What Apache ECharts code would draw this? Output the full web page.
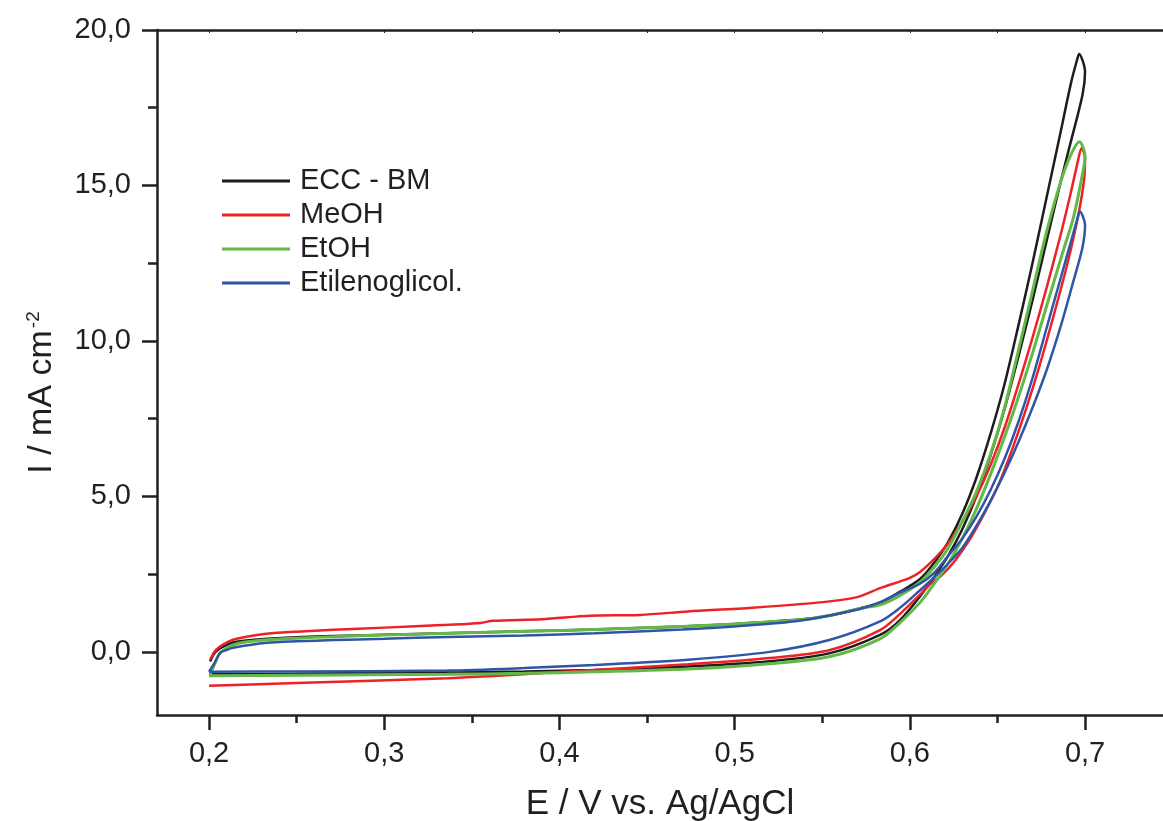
<!DOCTYPE html>
<html>
<head>
<meta charset="utf-8">
<script src="https://cdn.jsdelivr.net/npm/echarts@6/dist/echarts.min.js"></script>
<style>
  html, body { margin: 0; padding: 0; background: #fff; }
  #chart { width: 1163px; height: 821px; }
</style>
</head>
<body>
<div id="chart"></div>
<script>
// tick values
const xTicks = [0.2, 0.3, 0.4, 0.5, 0.6, 0.7];
const xMinor = [0.25, 0.35, 0.45, 0.55, 0.65];
const yTicks = [0, 5, 10, 15, 20];
const yMinor = [2.5, 7.5, 12.5, 17.5];

const names = ['ECC - BM', 'MeOH', 'EtOH', 'Etilenoglicol.'];
const colors = ['#1f1c1d', '#ec2227', '#63b947', '#2f55a4'];

// ECC - BM : scan order (forward then back)
const eccE = [0.2006, 0.203, 0.2063, 0.21, 0.2137, 0.22, 0.233, 0.25, 0.271, 0.30, 0.336, 0.38, 0.42, 0.47, 0.50, 0.537, 0.555, 0.5716, 0.583, 0.594, 0.606, 0.615, 0.622, 0.630, 0.638, 0.646, 0.654, 0.662, 0.670, 0.678, 0.686, 0.692, 0.6955, 0.6966,
              0.700, 0.6985, 0.6914, 0.686, 0.678, 0.670, 0.662, 0.654, 0.646, 0.638, 0.630, 0.622, 0.615, 0.606, 0.594, 0.583, 0.5545, 0.52, 0.4734, 0.42, 0.38, 0.336, 0.25, 0.2];
const eccI = [-0.31, -0.05, 0.12, 0.22, 0.30, 0.36, 0.42, 0.47, 0.51, 0.55, 0.60, 0.66, 0.72, 0.82, 0.90, 1.04, 1.18, 1.40, 1.58, 1.92, 2.35, 2.95, 3.55, 4.45, 5.60, 7.0, 8.6, 10.5, 12.5, 14.6, 16.7, 18.3, 19.05, 19.23,
              18.65, 17.9, 16.3, 15.1, 13.2, 11.3, 9.5, 7.8, 6.3, 5.0, 3.95, 3.1, 2.5, 1.8, 1.0, 0.55, -0.04, -0.30, -0.47, -0.58, -0.63, -0.66, -0.70, -0.72];

// MeOH
const meohE = [0.2006, 0.203, 0.2063, 0.21, 0.2137, 0.22, 0.233, 0.25, 0.271, 0.30, 0.336, 0.355, 0.362, 0.39, 0.4175, 0.446, 0.4734, 0.51, 0.5505, 0.57, 0.583, 0.600, 0.606, 0.615, 0.622, 0.630, 0.638, 0.646, 0.654, 0.662, 0.670, 0.678, 0.686, 0.692, 0.696, 0.698,
               0.700, 0.6995, 0.696, 0.690, 0.682, 0.674, 0.666, 0.658, 0.650, 0.642, 0.634, 0.626, 0.618, 0.612, 0.606, 0.594, 0.583, 0.5545, 0.52, 0.4734, 0.40, 0.336, 0.25, 0.2];
const meohI = [-0.26, 0.0, 0.17, 0.30, 0.39, 0.47, 0.58, 0.65, 0.71, 0.78, 0.87, 0.93, 1.00, 1.05, 1.16, 1.19, 1.30, 1.42, 1.60, 1.76, 2.05, 2.38, 2.58, 3.05, 3.5, 4.2, 5.0, 6.0, 7.2, 8.6, 10.1, 11.7, 13.4, 14.8, 15.8, 16.2,
               15.9, 15.2, 14.0, 12.5, 10.8, 9.2, 7.75, 6.45, 5.3, 4.4, 3.6, 2.95, 2.45, 2.2, 1.85, 1.2, 0.70, 0.06, -0.20, -0.40, -0.65, -0.85, -1.00, -1.09];

// EtOH
const etohE = [0.2005, 0.2035, 0.2063, 0.21, 0.2137, 0.22, 0.233, 0.25, 0.271, 0.30, 0.336, 0.38, 0.42, 0.47, 0.50, 0.537, 0.555, 0.5716, 0.583, 0.594, 0.606, 0.615, 0.622, 0.630, 0.638, 0.646, 0.654, 0.662, 0.670, 0.678, 0.686, 0.692, 0.6968,
               0.700, 0.699, 0.6935, 0.687, 0.679, 0.670, 0.662, 0.654, 0.646, 0.638, 0.630, 0.622, 0.614, 0.606, 0.594, 0.583, 0.5545, 0.52, 0.4734, 0.42, 0.38, 0.336, 0.25, 0.2];
const etohI = [-0.74, -0.35, -0.03, 0.12, 0.22, 0.31, 0.39, 0.44, 0.49, 0.54, 0.60, 0.66, 0.72, 0.82, 0.90, 1.03, 1.18, 1.40, 1.51, 1.80, 2.25, 2.80, 3.35, 4.2, 5.15, 6.35, 7.85, 9.7, 11.6, 13.5, 15.1, 16.0, 16.41,
               15.93, 15.5, 14.0, 12.8, 11.3, 9.6, 8.2, 6.9, 5.7, 4.6, 3.65, 2.85, 2.2, 1.6, 0.92, 0.42, -0.15, -0.38, -0.55, -0.64, -0.69, -0.72, -0.75, -0.77];

// Etilenoglicol.
const etilE = [0.2, 0.2035, 0.2063, 0.21, 0.2137, 0.233, 0.25, 0.271, 0.30, 0.336, 0.38, 0.42, 0.47, 0.50, 0.537, 0.5716, 0.583, 0.594, 0.606, 0.614, 0.622, 0.630, 0.638, 0.646, 0.654, 0.662, 0.670, 0.678, 0.686, 0.692, 0.6955, 0.697,
               0.700, 0.6985, 0.693, 0.686, 0.678, 0.670, 0.662, 0.654, 0.646, 0.638, 0.630, 0.622, 0.614, 0.606, 0.594, 0.583, 0.5545, 0.52, 0.4734, 0.42, 0.38, 0.336, 0.25, 0.2];
const etilI = [-0.64, -0.32, -0.03, 0.06, 0.13, 0.29, 0.34, 0.38, 0.42, 0.48, 0.53, 0.60, 0.72, 0.82, 1.00, 1.38, 1.60, 1.90, 2.20, 2.55, 3.1, 3.65, 4.35, 5.2, 6.2, 7.4, 8.8, 10.4, 12.0, 13.2, 13.9, 14.16,
               13.73, 13.0, 11.85, 10.45, 9.05, 7.85, 6.75, 5.75, 4.85, 4.05, 3.35, 2.85, 2.4, 1.99, 1.40, 0.98, 0.39, 0.0, -0.25, -0.42, -0.52, -0.60, -0.63, -0.64];

const xs = [eccE, meohE, etohE, etilE];
const ys = [eccI, meohI, etohI, etilI];

const XMIN = 0.1703, XMAX = 0.7445, YMIN = -2.03, YMAX = 20;
const axisColor = '#231f20';
const font = '"Liberation Sans", Arial, sans-serif';
const comma = v => v.toFixed(1).replace('.', ',');

const chart = echarts.init(document.getElementById('chart'));

const series = names.map((n, i) => ({
    name: n,
    type: 'line',
    xAxisIndex: 0,
    yAxisIndex: 0,
    showSymbol: false,
    smooth: 0.3,
    lineStyle: { color: colors[i], width: i === 2 ? 3 : 2.5 },
    itemStyle: { color: colors[i] },
    data: xs[i].map((e, k) => [e, ys[i][k]])
}));

chart.setOption({
    animation: false,
    backgroundColor: '#fff',
    grid: { left: 157, right: 0, top: 30, bottom: 106, outerBoundsMode: 'none' },
    legend: {
        orient: 'vertical',
        left: 217,
        top: 159,
        icon: 'rect',
        itemWidth: 68,
        itemHeight: 3,
        itemGap: 0,
        textStyle: { fontFamily: font, fontSize: 29, color: axisColor, lineHeight: 34, padding: [0, 0, 0, 5] },
        data: names
    },
    xAxis: [
        {
            type: 'value', min: XMIN, max: XMAX, position: 'bottom',
            axisLine: { show: true, onZero: false, lineStyle: { color: axisColor, width: 2.5 } },
            axisTick: { show: true, customValues: xTicks, length: 15, lineStyle: { color: axisColor, width: 2.5 } },
            axisLabel: { customValues: xTicks, formatter: comma, margin: 24, fontFamily: font, fontSize: 29, color: axisColor },
            splitLine: { show: false },
            name: 'E / V vs. Ag/AgCl', nameLocation: 'middle', nameGap: 72,
            nameTextStyle: { fontFamily: font, fontSize: 35, color: axisColor }
        },
        {
            type: 'value', min: XMIN, max: XMAX, position: 'bottom',
            axisLine: { show: false, onZero: false },
            axisTick: { show: true, customValues: xMinor, length: 8, lineStyle: { color: axisColor, width: 2.5 } },
            axisLabel: { show: false },
            splitLine: { show: false }
        },
        {
            type: 'value', min: XMIN, max: XMAX, position: 'top',
            axisLine: { show: true, onZero: false, lineStyle: { color: axisColor, width: 2.5 } },
            axisTick: { show: true, inside: true, customValues: xTicks.concat(xMinor), length: 3, lineStyle: { color: axisColor, width: 1 } },
            axisLabel: { show: false },
            splitLine: { show: false }
        }
    ],
    yAxis: [
        {
            type: 'value', min: YMIN, max: YMAX, position: 'left',
            axisLine: { show: true, onZero: false, lineStyle: { color: axisColor, width: 2.5 } },
            axisTick: { show: true, customValues: yTicks, length: 15, lineStyle: { color: axisColor, width: 2.5 } },
            axisLabel: { customValues: yTicks, formatter: comma, margin: 26, fontFamily: font, fontSize: 29, color: axisColor },
            splitLine: { show: false },
            name: '{a|I / mA cm}{s|-2}', nameLocation: 'middle', nameGap: 98,
            nameTextStyle: {
                padding: [0, 40, 0, 0],
                rich: {
                    a: { fontFamily: font, fontSize: 34, color: axisColor },
                    s: { fontFamily: font, fontSize: 19, color: axisColor, verticalAlign: 'top', padding: [0, 0, 16, 2] }
                }
            }
        },
        {
            type: 'value', min: YMIN, max: YMAX, position: 'left',
            axisLine: { show: false, onZero: false },
            axisTick: { show: true, customValues: yMinor, length: 9, lineStyle: { color: axisColor, width: 2.5 } },
            axisLabel: { show: false },
            splitLine: { show: false }
        }
    ],
    series: series
});
</script>
</body>
</html>
